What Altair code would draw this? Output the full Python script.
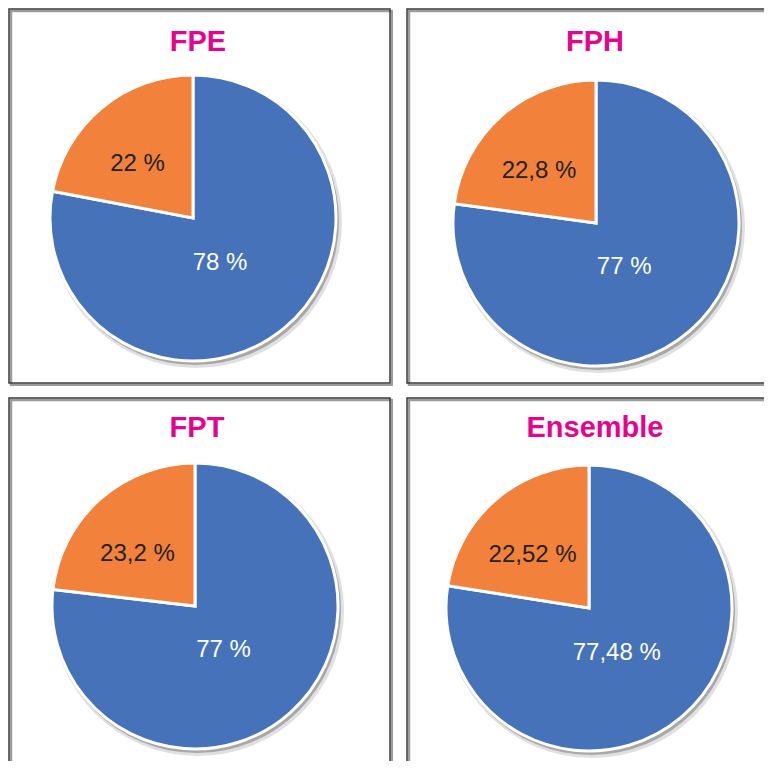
import altair as alt
import pandas as pd

# ---- data -------------------------------------------------------------
panels = ["FPE", "FPH", "FPT", "Ensemble"]
categories = ["Part 1", "Part 2"]          # blue slice, orange slice
blue_values = [78, 77, 77, 77.48]
orange_values = [22, 22.8, 23.2, 22.52]
blue_labels = ["78 %", "77 %", "77 %", "77,48 %"]
orange_labels = ["22 %", "22,8 %", "23,2 %", "22,52 %"]

rows = []
for i, p in enumerate(panels):
    rows.append({"panel": p, "cat": categories[0], "rank": 1,
                 "value": blue_values[i], "label": blue_labels[i]})
    rows.append({"panel": p, "cat": categories[1], "rank": 2,
                 "value": orange_values[i], "label": orange_labels[i]})
df = pd.DataFrame(rows)

# ---- style ------------------------------------------------------------
BLUE = "#4572b9"
ORANGE = "#f2813b"
MAGENTA = "#e6048c"
TITLE_FONT = "Liberation Sans Narrow, Arial Narrow, Liberation Sans, Arial, sans-serif"
LABEL_FONT = "Liberation Sans, Arial, Helvetica, sans-serif"
R = 143
theta_scale = alt.Scale(domain=[0, 1], range=[0, 6.283185307179586])
color_enc = alt.Color("cat:N", scale=alt.Scale(domain=categories, range=[BLUE, ORANGE]), legend=None)


def panel(name, w, h, cx, cy, tx, ty, open_right, open_bottom):
    base = (
        alt.Chart(df)
        .transform_filter(alt.datum.panel == name)
        .transform_stack(stack="value", groupby=["panel"], as_=["v0", "v1"],
                         offset="normalize", sort=[alt.SortField("rank", order="ascending")])
        .transform_calculate(mid="(datum.v0 + datum.v1) / 2")
    )
    one = base.transform_filter(alt.datum.rank == 1)

    x2 = w + 20 if open_right else w - 3
    y2 = h + 20 if open_bottom else h - 3
    box_shadow = one.mark_rect(fillOpacity=0, stroke="#9c9c9c", strokeWidth=2.5, clip=True).encode(
        x=alt.value(3), y=alt.value(3), x2=alt.value(x2 + 2), y2=alt.value(y2 + 2))
    box = one.mark_rect(fillOpacity=0, stroke="#3a3a3a", strokeWidth=1.5, clip=True).encode(
        x=alt.value(1), y=alt.value(1), x2=alt.value(x2), y2=alt.value(y2))

    shadow1 = one.mark_arc(outerRadius=R + 3, color="#000000", opacity=0.12).encode(
        theta=alt.value(0), theta2=alt.value(6.2832), x=alt.value(cx + 3), y=alt.value(cy + 4))
    shadow2 = one.mark_arc(outerRadius=R + 1, color="#000000", opacity=0.25).encode(
        theta=alt.value(0), theta2=alt.value(6.2832), x=alt.value(cx + 2), y=alt.value(cy + 3))

    arcs = base.mark_arc(outerRadius=R, stroke="white", strokeWidth=3).encode(
        theta=alt.Theta("v0:Q", stack=False, scale=theta_scale),
        theta2="v1:Q",
        color=color_enc,
        x=alt.value(cx), y=alt.value(cy),
    )

    lab_orange = base.transform_filter(alt.datum.rank == 2).mark_text(
        font=LABEL_FONT, fontSize=24, color="#222222", radius=76, dx=-7, dy=5,
        align="center", baseline="middle").encode(
        theta=alt.Theta("mid:Q", stack=False, scale=theta_scale),
        text="label:N", x=alt.value(cx), y=alt.value(cy))
    lab_blue = base.transform_filter(alt.datum.rank == 1).mark_text(
        font=LABEL_FONT, fontSize=24, color="#ffffff", radius=55, dx=-8, dy=3,
        align="center", baseline="middle").encode(
        theta=alt.Theta("mid:Q", stack=False, scale=theta_scale),
        text="label:N", x=alt.value(cx), y=alt.value(cy))

    title = one.mark_text(font=TITLE_FONT, fontWeight="bold", fontSize=29, color=MAGENTA,
                          align="center", baseline="middle").encode(
        text="panel:N", x=alt.value(tx), y=alt.value(ty))

    return alt.layer(box_shadow, box, shadow1, shadow2, arcs, lab_orange, lab_blue, title).properties(
        width=w, height=h)


p1 = panel("FPE", 385, 378, 185, 210, 190, 34, False, False)
p2 = panel("FPH", 358, 378, 190, 215, 189, 34, True, False)
p3 = panel("FPT", 385, 364, 187, 209, 189, 31, False, True)
p4 = panel("Ensemble", 358, 364, 183, 211, 189, 31, True, True)

chart = (
    alt.vconcat(
        alt.hconcat(p1, p2, spacing=13),
        alt.hconcat(p3, p4, spacing=13),
        spacing=11,
    )
    .properties(padding=0, background="white")
    .configure_view(stroke=None)
)

chart.save("out.html", embed_options={"renderer": "svg", "actions": False})
